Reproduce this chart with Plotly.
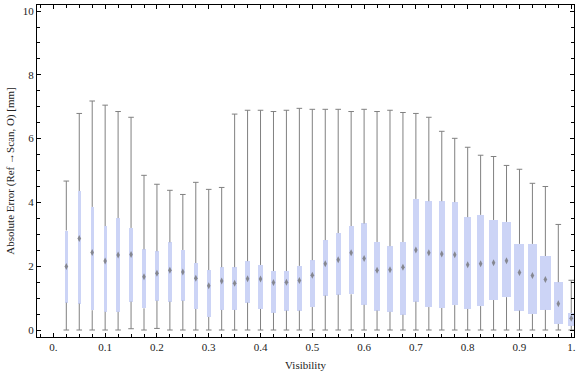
import plotly.graph_objects as go

# ---- data ----
visibility = [0.025, 0.05, 0.075, 0.1, 0.125, 0.15, 0.175, 0.2, 0.225, 0.25,
              0.275, 0.3, 0.325, 0.35, 0.375, 0.4, 0.425, 0.45, 0.475, 0.5,
              0.525, 0.55, 0.575, 0.6, 0.625, 0.65, 0.675, 0.7, 0.725, 0.75,
              0.775, 0.8, 0.825, 0.85, 0.875, 0.9, 0.925, 0.95, 0.975, 1.0]
whisker_low = [0, 0, 0, 0, 0, 0.04, 0, 0.05, 0, 0,
               0, 0, 0, 0, 0, 0, 0, 0, 0, 0,
               0, 0, 0, 0, 0, 0, 0, 0, 0, 0,
               0, 0, 0, 0, 0, 0, 0, 0, 0, 0]
q1 = [0.86, 0.83, 0.62, 0.57, 0.57, 0.89, 0.68, 0.92, 0.89, 0.92,
      0.66, 0.41, 0.63, 0.63, 0.86, 0.66, 0.54, 0.61, 0.61, 0.72,
      1.08, 1.11, 1.12, 0.79, 0.61, 0.57, 0.48, 0.89, 0.72, 0.69,
      0.78, 0.66, 0.75, 0.94, 1.03, 0.61, 0.50, 0.63, 0.19, 0.13]
median = [1.99, 2.87, 2.43, 2.16, 2.35, 2.37, 1.67, 1.78, 1.87, 1.82,
          1.62, 1.39, 1.54, 1.47, 1.61, 1.60, 1.49, 1.50, 1.55, 1.72,
          2.08, 2.20, 2.42, 2.24, 1.87, 1.89, 1.97, 2.51, 2.42, 2.38,
          2.36, 2.05, 2.08, 2.11, 2.17, 1.80, 1.71, 1.58, 0.82, 0.37]
q3 = [3.12, 4.36, 3.86, 3.26, 3.51, 3.20, 2.53, 2.47, 2.75, 2.51,
      2.10, 1.88, 1.97, 1.97, 2.16, 2.04, 1.85, 1.85, 2.01, 2.19,
      2.82, 3.04, 3.26, 3.34, 2.76, 2.63, 2.76, 4.11, 4.04, 4.04,
      4.01, 3.54, 3.61, 3.45, 3.39, 2.70, 2.70, 2.32, 1.50, 0.53]
whisker_high = [4.67, 6.79, 7.18, 7.05, 6.85, 6.67, 4.85, 4.57, 4.38, 4.25,
                4.63, 4.41, 4.47, 6.77, 6.89, 6.89, 6.85, 6.89, 6.95, 6.92,
                6.92, 6.92, 6.85, 6.92, 6.85, 6.89, 6.82, 6.79, 6.67, 6.23,
                6.01, 5.73, 5.48, 5.44, 5.16, 5.04, 4.60, 4.50, 3.31, 1.56]
x_tick_vals = [0, 0.1, 0.2, 0.3, 0.4, 0.5, 0.6, 0.7, 0.8, 0.9, 1.0]
x_tick_text = ["0.", "0.1", "0.2", "0.3", "0.4", "0.5", "0.6", "0.7", "0.8", "0.9", "1."]
y_tick_vals = [0, 2, 4, 6, 8, 10]

# ---- style ----
box_width_px = [2.7, 3, 3.3, 3.3, 3.3, 3.3, 3.3, 3.3, 4, 4,
                4.3, 4, 4.3, 4.3, 4.7, 4.7, 5, 4.3, 5, 4.7,
                5, 5, 5.3, 6.3, 6, 6, 6.3, 6.3, 6.7, 6.3,
                6, 7, 7.3, 8.3, 8.7, 10, 9.7, 10.7, 8.7, 6]
W, H = 576, 377
margin = dict(l=37, r=2, t=5, b=40)
x_range = [-0.0316, 1.0053]
y_range = [-0.219, 10.19]
px_per_x = (W - margin["l"] - margin["r"]) / (x_range[1] - x_range[0])
box_widths = [p / px_per_x for p in box_width_px]

BOX_COLOR = "#ccd4f6"
WHISKER_COLOR = "#808080"
FONT = "Liberation Serif"
FONT_SIZE = 11

fig = go.Figure()

# boxes (interquartile range)
fig.add_trace(go.Bar(
    x=visibility,
    y=[b - a for a, b in zip(q1, q3)],
    base=q1,
    width=box_widths,
    marker=dict(color=BOX_COLOR, line=dict(width=0)),
    hoverinfo="skip",
    cliponaxis=False,
))

# whiskers
wx, wy = [], []
for x, lo, a, b, hi in zip(visibility, whisker_low, q1, q3, whisker_high):
    wx += [x, x, None, x, x, None]
    wy += [lo, a, None, b, hi, None]
fig.add_trace(go.Scatter(
    x=wx, y=wy, mode="lines",
    line=dict(color=WHISKER_COLOR, width=1),
    hoverinfo="skip",
))

# whisker caps
fig.add_trace(go.Scatter(
    x=visibility + visibility,
    y=whisker_low + whisker_high,
    mode="markers",
    marker=dict(symbol="line-ew", size=4, line=dict(color=WHISKER_COLOR, width=1)),
    hoverinfo="skip",
    cliponaxis=False,
))

# medians
fig.add_trace(go.Scatter(
    x=visibility, y=median, mode="markers",
    marker=dict(symbol="diamond-tall", size=5, color="rgba(110,110,110,0.75)",
                line=dict(width=0)),
    cliponaxis=False,
))

axis_common = dict(
    showline=True, linecolor="black", linewidth=1, mirror="ticks",
    ticks="inside", ticklen=4, tickcolor="black", tickwidth=1,
    showgrid=False, zeroline=False, automargin=False,
    tickfont=dict(family=FONT, size=FONT_SIZE, color="#222"),
)

fig.update_layout(
    width=W, height=H,
    margin=dict(margin, autoexpand=False),
    paper_bgcolor="white", plot_bgcolor="white",
    showlegend=False,
    bargap=0,
    xaxis=dict(
        range=x_range, tickmode="array", tickvals=x_tick_vals, ticktext=x_tick_text,
        minor=dict(dtick=0.025, tick0=0, ticks="inside", ticklen=3, tickcolor="black"),
        title=dict(text="Visibility", font=dict(family=FONT, size=FONT_SIZE, color="#222"),
                   standoff=9),
        **axis_common,
    ),
    yaxis=dict(
        range=y_range, tickmode="array", tickvals=y_tick_vals,
        minor=dict(dtick=0.5, tick0=0, ticks="inside", ticklen=3, tickcolor="black"),
        title=dict(text="Absolute Error (Ref →Scan, O) [mm]",
                   font=dict(family=FONT, size=FONT_SIZE, color="#222"), standoff=5),
        **axis_common,
    ),
)

fig.write_html("out.html", config={"displayModeBar": False},
               post_script="document.body.style.margin='0';")
